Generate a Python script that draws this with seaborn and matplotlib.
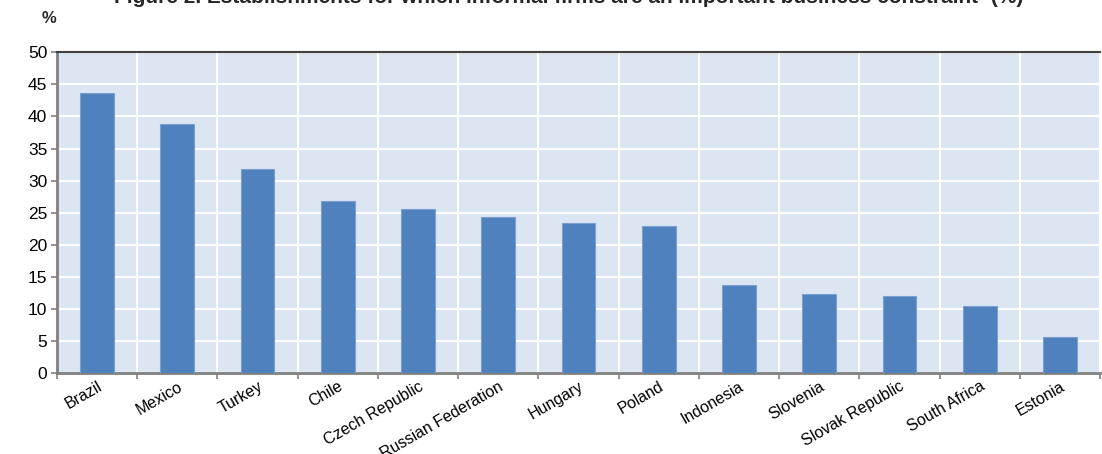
import matplotlib
matplotlib.use("Agg")
import matplotlib.pyplot as plt
import seaborn as sns
import pandas as pd
from matplotlib.ticker import FixedLocator, MultipleLocator

countries = ["Brazil", "Mexico", "Turkey", "Chile", "Czech Republic",
             "Russian Federation", "Hungary", "Poland", "Indonesia",
             "Slovenia", "Slovak Republic", "South Africa", "Estonia"]
shares = [43.6, 38.8, 31.8, 26.9, 25.5, 24.4, 23.4, 22.9, 13.7,
          12.3, 12.0, 10.5, 5.6]

title = "Figure 2. Establishments for which informal firms are an important business constraint\u00b9 (%)"

sns.set_theme(style="white")
plt.rcParams["font.family"] = ["Liberation Sans", "DejaVu Sans"]

df = pd.DataFrame({"country": countries, "share": shares})

fig = plt.figure(figsize=(11.02, 4.54), dpi=100)
ax = fig.add_axes([0.0517, 0.178, 0.9465, 0.707])
ax.set_facecolor("#DCE6F2")

sns.barplot(data=df, x="country", y="share", order=countries,
            color="#4F81BD", saturation=1, width=0.42, ax=ax,
            edgecolor="#7A9FD0", linewidth=0.8, zorder=3)

ax.set_xlim(-0.5, len(countries) - 0.5)
ax.set_ylim(0, 50)
ax.yaxis.set_major_locator(MultipleLocator(5))
ax.xaxis.set_minor_locator(FixedLocator([i + 0.5 for i in range(-1, len(countries))]))

ax.grid(True, axis="y", which="major", color="white", linewidth=1.5, zorder=1)
ax.grid(True, axis="x", which="minor", color="white", linewidth=1.5, zorder=1)
ax.grid(False, axis="x", which="major")
ax.set_axisbelow(True)

ax.set_xlabel("")
ax.set_ylabel("")
ax.tick_params(axis="x", which="major", length=0, pad=4, labelsize=11.5, labelcolor="black")
ax.tick_params(axis="x", which="minor", length=4, width=1.2, color="#808080",
               direction="out", bottom=True)
ax.tick_params(axis="y", which="major", length=4, width=1.2, color="#808080",
               direction="out", left=True, labelsize=12.5, pad=3, labelcolor="black")

for lbl in ax.get_xticklabels():
    lbl.set_rotation(30)
    lbl.set_ha("right")
    lbl.set_rotation_mode("anchor")

for side in ("left", "bottom"):
    ax.spines[side].set_color("#808080")
    ax.spines[side].set_linewidth(2)
ax.spines["top"].set_color("#404040")
ax.spines["top"].set_linewidth(1.5)
ax.spines["right"].set_visible(False)

fig.text(0.038, 0.96, "%", fontsize=12, fontweight="bold", ha="left", va="center")
fig.text(0.516, 1.006, title, fontsize=15, fontweight="bold", ha="center", va="center")

fig.savefig("out.png", dpi=100)
